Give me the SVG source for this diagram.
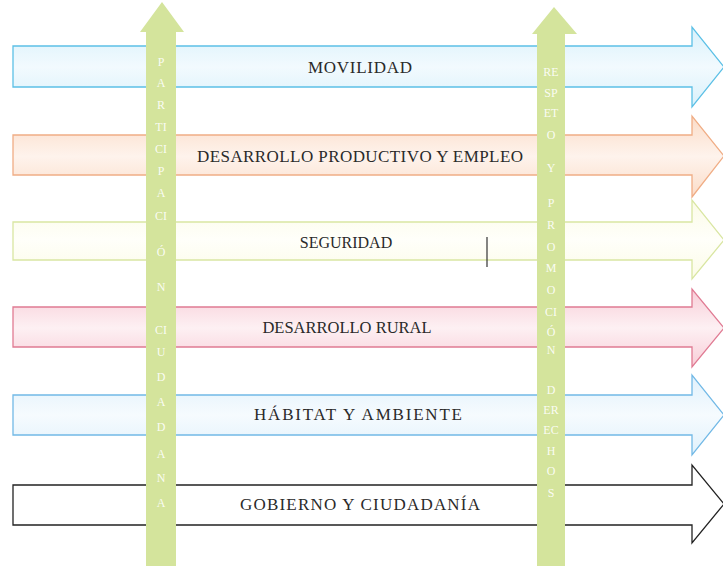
<svg xmlns="http://www.w3.org/2000/svg" width="723" height="566" viewBox="0 0 723 566">
<style>
.arr{stroke-width:1.3;stroke-linejoin:miter}
.lbl{font-family:"Liberation Serif","DejaVu Serif",serif;font-size:17px;fill:#2a2a2a;text-anchor:middle}
.vert{fill:#d4e49c}
.vl{font-family:"Liberation Serif","DejaVu Serif",serif;font-size:12px;fill:#ffffff;fill-opacity:0.9;text-anchor:middle}
</style>
<defs>
<linearGradient id="gBlue" x1="0" y1="0" x2="0" y2="1"><stop offset="0" stop-color="#d9f1fb"/><stop offset="0.5" stop-color="#f2fafe"/><stop offset="1" stop-color="#d9f1fb"/></linearGradient>
<linearGradient id="gPeach" x1="0" y1="0" x2="0" y2="1"><stop offset="0" stop-color="#fbdcc8"/><stop offset="0.5" stop-color="#fef3ec"/><stop offset="1" stop-color="#fbdcc8"/></linearGradient>
<linearGradient id="gYel" x1="0" y1="0" x2="0" y2="1"><stop offset="0" stop-color="#fbfbe6"/><stop offset="0.5" stop-color="#fffffa"/><stop offset="1" stop-color="#fbfbe6"/></linearGradient>
<linearGradient id="gPink" x1="0" y1="0" x2="0" y2="1"><stop offset="0" stop-color="#f8cdd7"/><stop offset="0.5" stop-color="#fdf0f3"/><stop offset="1" stop-color="#f8cdd7"/></linearGradient>
<linearGradient id="gBlue2" x1="0" y1="0" x2="0" y2="1"><stop offset="0" stop-color="#e0f1fc"/><stop offset="0.5" stop-color="#f6fbfe"/><stop offset="1" stop-color="#e0f1fc"/></linearGradient>
</defs>
<rect width="723" height="566" fill="#ffffff"/>

<g id="movilidad">
<path class="arr" fill="url(#gBlue)" stroke="#5cc0e6" d="M13,46 H692 V27 L724,67 L692,107 V87 H13 Z"/>
<text class="lbl" x="360" y="73" textLength="104">MOVILIDAD</text>
</g>
<g id="desarrollo-productivo">
<path class="arr" fill="url(#gPeach)" stroke="#f0ad85" d="M13,135 H692 V116 L724,156 L692,197 V175 H13 Z"/>
<text class="lbl" x="360" y="162" textLength="326">DESARROLLO PRODUCTIVO Y EMPLEO</text>
</g>
<g id="seguridad">
<path class="arr" fill="url(#gYel)" stroke="#d9e6a2" d="M13,222 H692 V200 L724,240 L692,279 V260 H13 Z"/>
<text class="lbl" x="346" y="248" style="font-size:16px">SEGURIDAD</text>
</g>
<g id="desarrollo-rural">
<path class="arr" fill="url(#gPink)" stroke="#e07b93" d="M13,307 H692 V289 L724,328 L692,367 V347 H13 Z"/>
<text class="lbl" x="347" y="333" style="font-size:16.5px">DESARROLLO RURAL</text>
</g>
<g id="habitat">
<path class="arr" fill="url(#gBlue2)" stroke="#72b9e6" d="M13,395 H692 V375 L724,415 L692,455 V435 H13 Z"/>
<text class="lbl" x="358" y="420" textLength="208">HÁBITAT Y AMBIENTE</text>
</g>
<g id="gobierno">
<path class="arr" fill="#ffffff" stroke="#222222" d="M13,485 H692 V465 L724,504 L692,543 V525 H13 Z"/>
<text class="lbl" x="360" y="510" textLength="240">GOBIERNO Y CIUDADANÍA</text>
</g>

<g id="participacion-ciudadana">
<path class="vert" d="M146,566 V32 H140 L162,2 L184,32 H176 V566 Z"/>
<g class="vl">
<text x="161" y="66">P</text>
<text x="161" y="87">A</text>
<text x="161" y="109">R</text>
<text x="161" y="131">TI</text>
<text x="161" y="153">CI</text>
<text x="161" y="175">P</text>
<text x="161" y="197">A</text>
<text x="161" y="220">CI</text>
<text x="161" y="256">Ó</text>
<text x="161" y="291">N</text>
<text x="161" y="334">CI</text>
<text x="161" y="356">U</text>
<text x="161" y="381">D</text>
<text x="161" y="406">A</text>
<text x="161" y="431">D</text>
<text x="161" y="458">A</text>
<text x="161" y="482">N</text>
<text x="161" y="507">A</text>
</g>
</g>

<g id="respeto-derechos">
<path class="vert" d="M537,566 V34 H532 L554,7 L577,34 H565 V566 Z"/>
<g class="vl">
<text x="551" y="76">RE</text>
<text x="551" y="97">SP</text>
<text x="551" y="117">ET</text>
<text x="551" y="139">O</text>
<text x="551" y="172">Y</text>
<text x="551" y="207">P</text>
<text x="551" y="229">R</text>
<text x="551" y="251">O</text>
<text x="551" y="272">M</text>
<text x="551" y="294">O</text>
<text x="551" y="316">CI</text>
<text x="551" y="336">Ó</text>
<text x="551" y="354">N</text>
<text x="551" y="394">D</text>
<text x="551" y="414">ER</text>
<text x="551" y="434">EC</text>
<text x="551" y="455">H</text>
<text x="551" y="475">O</text>
<text x="551" y="497">S</text>
</g>
</g>

<g id="connectors"></g>

<line x1="487" y1="237" x2="487" y2="267" stroke="#333333" stroke-width="1.2"/>
</svg>
